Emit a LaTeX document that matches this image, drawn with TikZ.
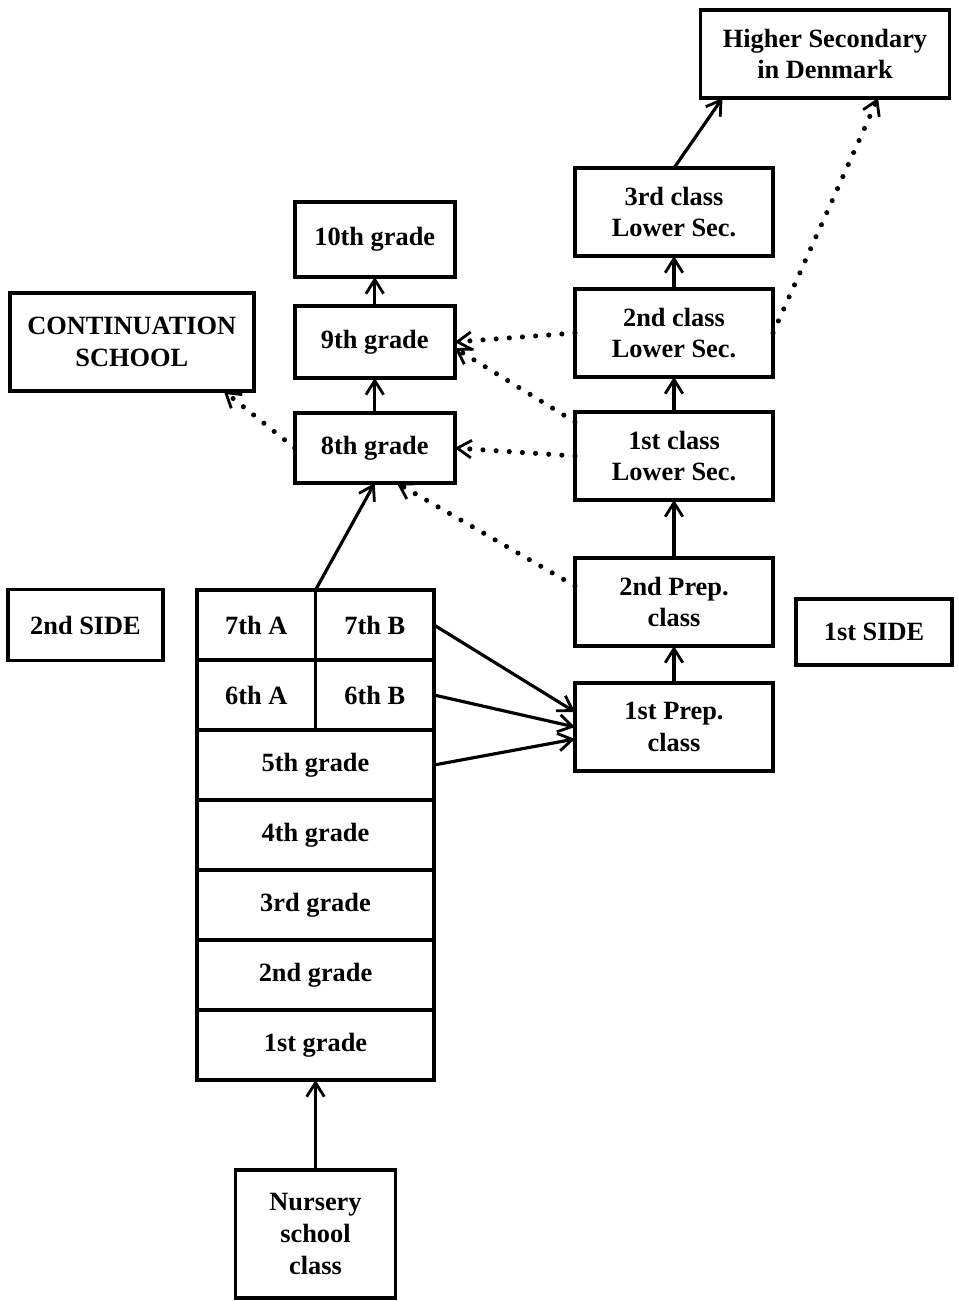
\documentclass[tikz,border=0pt]{standalone}
\usepackage{fontspec}
\setmainfont{Liberation Serif}
\usetikzlibrary{arrows.meta, positioning}

\begin{document}
\begin{tikzpicture}[
  box/.style={rectangle, draw=black, line width=2pt, fill=white,
              font=\fontsize{15}{18}\selectfont\bfseries, align=center,
              inner sep=2pt, outer sep=0pt},
  rbox/.style={box, minimum width=3.96cm, minimum height=1.76cm},
  mbox/.style={box, minimum width=3.2cm, minimum height=1.44cm},
  cell/.style={box, minimum height=1.4cm},
  half/.style={cell, minimum width=2.37cm},
  wide/.style={cell, minimum width=4.74cm},
  arr/.style={-{Straight Barb[length=8pt, width=10pt, line width=1.6pt]}, line width=1.8pt},
  dots/.style={-{Straight Barb[length=8pt, width=10pt, line width=1.6pt]}, line width=2.9pt,
               line cap=round, dash pattern=on 0pt off 7.5pt},
]
\useasboundingbox (0,0) rectangle (19.18,-26.02);

\node[half, anchor=north west] (g7a) at (3.94,-11.8) {7th A};
\node[half, right=0pt of g7a] (g7b) {7th B};
\node[half, below=0pt of g7a] (g6a) {6th A};
\node[half, below=0pt of g7b] (g6b) {6th B};
\node[wide, below=0pt of g6a.south east] (g5) {5th grade};
\node[wide, below=0pt of g5] (g4) {4th grade};
\node[wide, below=0pt of g4] (g3) {3rd grade};
\node[wide, below=0pt of g3] (g2) {2nd grade};
\node[wide, below=0pt of g2] (g1) {1st grade};
\node[box, minimum width=3.2cm, minimum height=2.56cm, below=1.8cm of g1] (nurs) {Nursery\\school\\class};
\node[box, minimum width=3.1cm, minimum height=1.42cm, left=0.68cm of g7a] (side2) {2nd SIDE};

\node[mbox, minimum height=1.4cm, above=2.14cm of g7b] (g8) {8th grade};
\node[mbox, above=0.7cm of g8] (g9) {9th grade};
\node[mbox, minimum height=1.5cm, above=0.58cm of g9] (g10) {10th grade};
\node[box, minimum width=4.88cm, minimum height=1.96cm, left=0.82cm of g9] (cont) {CONTINUATION\\SCHOOL};

\node[rbox, right=2.82cm of g6b, yshift=-0.64cm] (prep1) {1st Prep.\\class};
\node[rbox, above=0.74cm of prep1] (prep2) {2nd Prep.\\class};
\node[rbox, above=1.16cm of prep2] (lsec1) {1st class\\Lower Sec.};
\node[rbox, above=0.7cm of lsec1] (lsec2) {2nd class\\Lower Sec.};
\node[rbox, above=0.66cm of lsec2] (lsec3) {3rd class\\Lower Sec.};
\node[box, minimum width=4.98cm, minimum height=1.76cm, above=1.4cm of lsec3, xshift=3.02cm] (hsd) {Higher Secondary\\in Denmark};
\node[box, minimum width=3.12cm, minimum height=1.32cm, right=0.46cm of prep2, yshift=-0.6cm] (side1) {1st SIDE};

\draw[arr] (nurs) -- (g1);
\draw[arr] (g7a.north east) -- (g8.south);
\draw[arr] (g7b.east) -- ([yshift=0.3cm]prep1.west);
\draw[arr] (g6b.east) -- (prep1.west);
\draw[arr] (g5.east) -- ([yshift=-0.24cm]prep1.west);
\draw[arr] (g8) -- (g9);
\draw[arr] (g9) -- (g10);
\draw[arr] (prep1) -- (prep2);
\draw[arr] (prep2) -- (lsec1);
\draw[arr] (lsec1) -- (lsec2);
\draw[arr] (lsec2) -- (lsec3);
\draw[arr] (lsec3.north) -- ([xshift=0.44cm]hsd.south west);
\draw[dots] (lsec2.east) -- ([xshift=1.06cm]hsd.south);
\draw[dots] (lsec2.west) -- (g9.east);
\draw[dots] ([yshift=-0.2cm]lsec1.north west) -- ([yshift=-0.12cm]g9.east);
\draw[dots] (lsec1.west) -- (g8.east);
\draw[dots] ([yshift=-0.56cm]prep2.north west) -- ([xshift=0.44cm]g8.south);
\draw[dots] (g8.west) -- ([xshift=-0.6cm]cont.south east);
\end{tikzpicture}
\end{document}
